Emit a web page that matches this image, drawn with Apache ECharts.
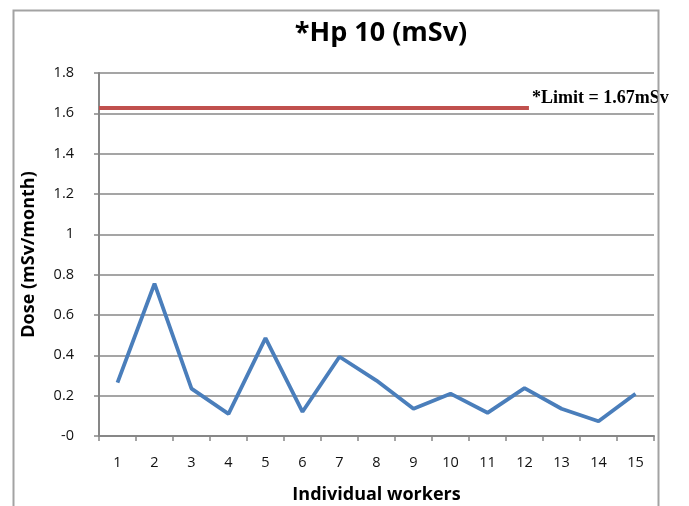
<!DOCTYPE html>
<html>
<head>
<meta charset="utf-8">
<script src="https://cdn.jsdelivr.net/npm/echarts@6/dist/echarts.min.js"></script>
<style>html,body{margin:0;padding:0;background:#fff;}#c{width:689px;height:506px;}</style>
</head>
<body>
<div id="c"></div>
<script>
const workers = ['1','2','3','4','5','6','7','8','9','10','11','12','13','14','15'];
const dose = [0.265, 0.755, 0.235, 0.11, 0.485, 0.12, 0.393, 0.275, 0.135, 0.21, 0.115, 0.237, 0.135, 0.073, 0.21];
const yTickLabels = ['-0','0.2','0.4','0.6','0.8','1','1.2','1.4','1.6','1.8'];
const limitLine = [[0, 1.626], [11.62, 1.626]];
const limitText = '*Limit = 1.67mSv';
const titleText = '*Hp 10 (mSv)';
const yName = 'Dose (mSv/month)';
const xName = 'Individual workers';

const chart = echarts.init(document.getElementById('c'), null, {renderer: 'canvas'});
const gray = '#878787';
chart.setOption({
  animation: false,
  backgroundColor: '#fff',
  title: {
    text: titleText, left: 376, top: 15, textAlign: 'center',
    textStyle: {fontFamily: 'Open Sans', fontWeight: 'bold', fontSize: 27, color: '#000'}
  },
  graphic: [{
    type: 'rect', left: 11, top: 8, z: 100,
    shape: {width: 645, height: 520},
    style: {fill: 'none', stroke: '#a3a3a3', lineWidth: 2}
  }],
  grid: {left: 99, right: 35, top: 73, bottom: 70, containLabel: false, outerBoundsMode: 'none'},
  xAxis: [{
    type: 'category', data: workers, boundaryGap: true,
    name: xName, nameLocation: 'middle', nameGap: 50,
    nameTextStyle: {fontFamily: 'Open Sans', fontWeight: 'bold', fontSize: 18, color: '#000'},
    axisLine: {lineStyle: {color: gray, width: 2}},
    axisTick: {show: true, length: 5, lineStyle: {color: gray, width: 1.5}},
    axisLabel: {margin: 19, fontFamily: 'Open Sans', fontSize: 14.5, color: '#111'}
  }, {
    type: 'value', min: 0, max: 15, show: false
  }],
  yAxis: {
    type: 'value', min: 0, max: 1.8, interval: 0.2,
    name: yName, nameLocation: 'middle', nameGap: 61,
    nameTextStyle: {fontFamily: 'Open Sans', fontWeight: 'bold', fontSize: 18, color: '#000'},
    axisLine: {show: true, lineStyle: {color: gray, width: 2}},
    axisTick: {show: true, length: 5, lineStyle: {color: gray, width: 1.5}},
    axisLabel: {
      margin: 25, fontFamily: 'Open Sans', fontSize: 14.5, color: '#111',
      formatter: function (v) { return yTickLabels[Math.round(v / 0.2)]; }
    },
    splitLine: {show: true, lineStyle: {color: gray, width: 1.5}}
  },
  series: [{
    type: 'line', data: dose, xAxisIndex: 0,
    symbol: 'none', lineStyle: {color: '#4a7ebb', width: 3.8}
  }, {
    type: 'line', data: limitLine, xAxisIndex: 1,
    symbol: 'none', lineStyle: {color: '#c0504d', width: 4},
    endLabel: {
      show: true, formatter: limitText, offset: [-5, -10],
      fontFamily: 'Liberation Serif', fontWeight: 'bold', fontSize: 18, color: '#000'
    }
  }]
});
</script>
</body>
</html>
